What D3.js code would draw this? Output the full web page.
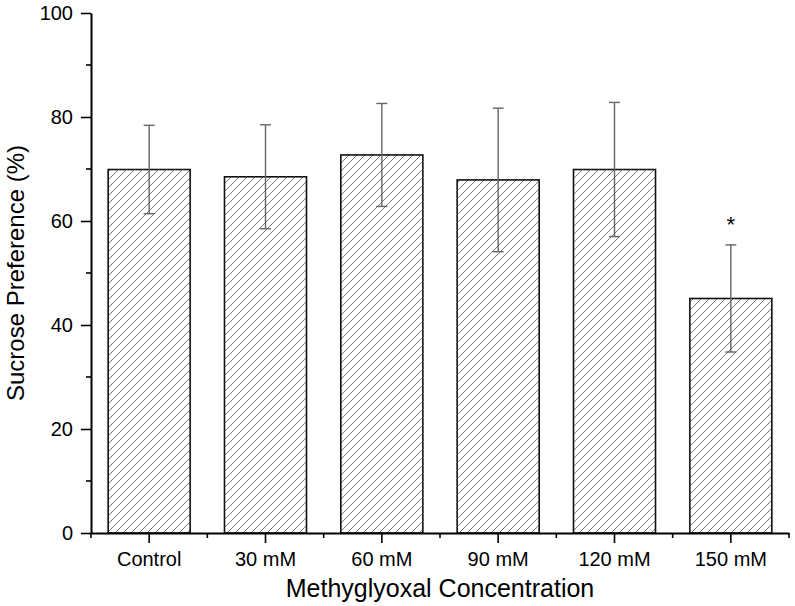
<!DOCTYPE html>
<meta charset="utf-8">
<style>
  body { margin: 0; background: #fff; }
  text { font-family: "Liberation Sans", Arial, sans-serif; fill: #000; }
</style>
<script src="https://d3js.org/d3.v7.min.js"></script>
<div id="chart"></div>
<script>

// data
var categories = ["Control", "30 mM", "60 mM", "90 mM", "120 mM", "150 mM"];
var means = [69.9, 68.5, 72.7, 67.9, 69.9, 45.1];
var errors = [8.5, 10.0, 9.9, 13.8, 12.9, 10.3];
var significant = [false, false, false, false, false, true];
var yTicks = [0, 20, 40, 60, 80, 100];
var yMinor = [10, 30, 50, 70, 90];

var margin = {top: 13, right: 6, bottom: 73, left: 91},
    width = 795 - margin.left - margin.right,
    height = 606 - margin.top - margin.bottom;

var svg = d3.select("#chart")
  .append("svg")
    .attr("width", 795)
    .attr("height", 606);

// diagonal hatch fill
svg.append("defs")
  .append("pattern")
    .attr("id", "hatch")
    .attr("patternUnits", "userSpaceOnUse")
    .attr("width", 8)
    .attr("height", 8)
  .append("path")
    .attr("d", "M-2,2 l4,-4 M0,8 l8,-8 M6,10 l4,-4")
    .attr("stroke", "#555")
    .attr("stroke-width", 0.8);

var g = svg.append("g")
    .attr("transform", "translate(" + margin.left + "," + margin.top + ")");

var data = categories.map(function(c, i) {
  return {cat: c, mean: means[i], err: errors[i], sig: significant[i]};
});

var x = d3.scaleBand()
  .domain(categories)
  .range([0, width])
  .paddingInner(0.295)
  .paddingOuter(0.1475);

var y = d3.scaleLinear()
  .domain([0, 100])
  .range([height, 0]);

// bars
g.selectAll(".bar")
  .data(data)
  .enter()
  .append("rect")
    .attr("class", "bar")
    .attr("x", function(d) { return x(d.cat); })
    .attr("y", function(d) { return y(d.mean); })
    .attr("width", x.bandwidth())
    .attr("height", function(d) { return height - y(d.mean); })
    .attr("fill", "url(#hatch)")
    .attr("stroke", "#111")
    .attr("stroke-width", 1.6);

// error bars
var capW = 11;
var eb = g.selectAll(".err")
  .data(data)
  .enter()
  .append("g")
    .attr("class", "err")
    .attr("stroke", "#666")
    .attr("stroke-width", 1.4);

eb.append("line")
  .attr("x1", function(d) { return x(d.cat) + x.bandwidth() / 2; })
  .attr("x2", function(d) { return x(d.cat) + x.bandwidth() / 2; })
  .attr("y1", function(d) { return y(d.mean - d.err); })
  .attr("y2", function(d) { return y(d.mean + d.err); });

eb.append("line")
  .attr("x1", function(d) { return x(d.cat) + x.bandwidth() / 2 - capW / 2; })
  .attr("x2", function(d) { return x(d.cat) + x.bandwidth() / 2 + capW / 2; })
  .attr("y1", function(d) { return y(d.mean + d.err); })
  .attr("y2", function(d) { return y(d.mean + d.err); });

eb.append("line")
  .attr("x1", function(d) { return x(d.cat) + x.bandwidth() / 2 - capW / 2; })
  .attr("x2", function(d) { return x(d.cat) + x.bandwidth() / 2 + capW / 2; })
  .attr("y1", function(d) { return y(d.mean - d.err); })
  .attr("y2", function(d) { return y(d.mean - d.err); });

// significance marks
g.selectAll(".sig")
  .data(data.filter(function(d) { return d.sig; }))
  .enter()
  .append("text")
    .attr("class", "sig")
    .attr("x", function(d) { return x(d.cat) + x.bandwidth() / 2; })
    .attr("y", function(d) { return y(d.mean + d.err) - 13; })
    .attr("text-anchor", "middle")
    .style("font-size", "22px")
    .text("*");

// x axis
var xAxis = g.append("g")
  .attr("transform", "translate(0," + height + ")")
  .call(d3.axisBottom(x).tickSizeInner(10).tickSizeOuter(0).tickPadding(9));

// minor ticks at band edges
var edges = d3.range(categories.length + 1).map(function(i) { return i * x.step(); });
xAxis.selectAll(".minor")
  .data(edges)
  .enter()
  .append("line")
    .attr("class", "minor")
    .attr("x1", function(d) { return d; })
    .attr("x2", function(d) { return d; })
    .attr("y1", 0)
    .attr("y2", 5)
    .attr("stroke", "#000")
    .attr("stroke-width", 1.6);

// y axis
var yAxis = g.append("g")
  .call(d3.axisLeft(y).tickValues(yTicks).tickSizeInner(10).tickSizeOuter(0).tickPadding(8));

yAxis.selectAll(".minor")
  .data(yMinor)
  .enter()
  .append("line")
    .attr("class", "minor")
    .attr("x1", 0)
    .attr("x2", -5)
    .attr("y1", function(d) { return y(d); })
    .attr("y2", function(d) { return y(d); })
    .attr("stroke", "#000")
    .attr("stroke-width", 1.6);

g.selectAll(".domain").attr("stroke", "#000").attr("stroke-width", 2);
g.selectAll(".tick line").attr("stroke", "#000").attr("stroke-width", 1.6);
g.selectAll(".tick text")
  .style("font-size", "20px")
  .style("font-family", "'Liberation Sans', Arial, sans-serif")
  .attr("fill", "#000");

// axis titles
g.append("text")
  .attr("x", width / 2)
  .attr("y", height + 64)
  .attr("text-anchor", "middle")
  .style("font-size", "25px")
  .text("Methyglyoxal Concentration");

g.append("text")
  .attr("transform", "rotate(-90)")
  .attr("x", -height / 2)
  .attr("y", -67)
  .attr("text-anchor", "middle")
  .style("font-size", "24px")
  .text("Sucrose Preference (%)");

</script>
